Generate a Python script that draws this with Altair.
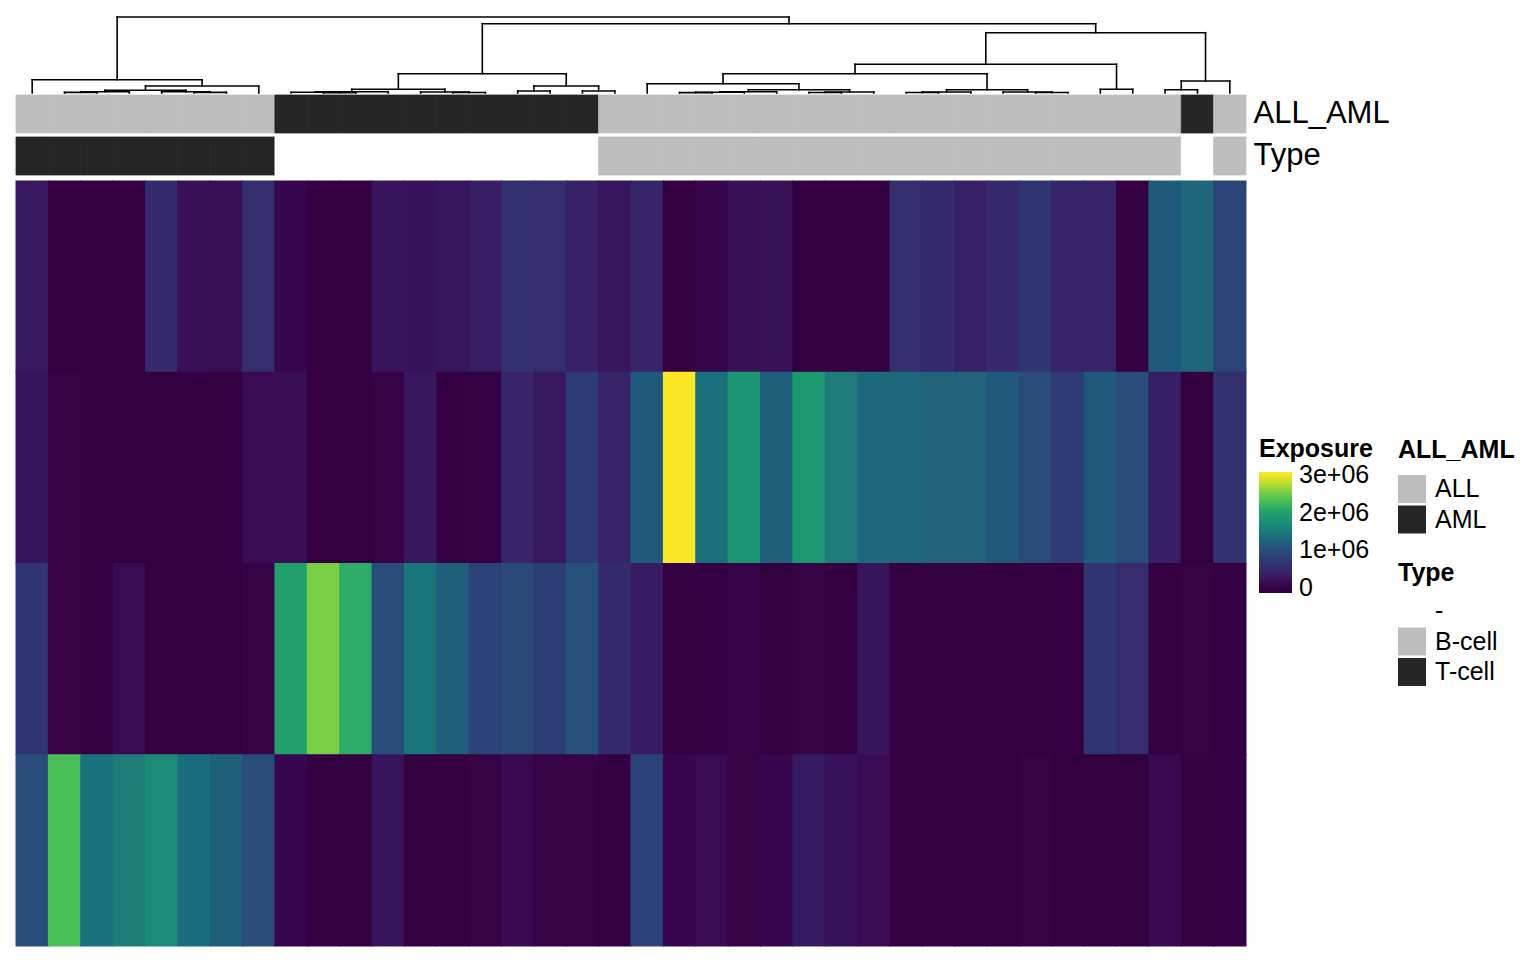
import altair as alt
import pandas as pd

# ---------------- data ----------------
samples = [f"Sample_{i + 1:02d}" for i in range(38)]  # in dendrogram leaf order
all_aml = ["ALL"] * 8 + ["AML"] * 10 + ["ALL"] * 18 + ["AML"] + ["ALL"]
cell_type = ["T-cell"] * 8 + ["-"] * 10 + ["B-cell"] * 18 + ["-"] + ["B-cell"]

signatures = ["Signature 1", "Signature 2", "Signature 3", "Signature 4"]
# exposures in units of 1e6
sig1 = [0.30, 0.00, 0.02, 0.00, 0.52, 0.20, 0.18, 0.55, 0.10, 0.02,
        0.00, 0.25, 0.24, 0.27, 0.35, 0.60, 0.55, 0.40, 0.28, 0.45,
        0.00, 0.08, 0.20, 0.21, 0.00, 0.02, 0.02, 0.55, 0.52, 0.38,
        0.50, 0.65, 0.45, 0.43, 0.02, 1.15, 1.28, 0.88]
sig2 = [0.25, 0.05, 0.00, 0.00, 0.00, 0.03, 0.01, 0.15, 0.17, 0.01,
        0.00, 0.05, 0.28, 0.03, 0.04, 0.45, 0.30, 0.75, 0.42, 1.15,
        3.05, 1.38, 1.86, 1.20, 1.90, 1.50, 1.32, 1.30, 1.25, 1.25,
        1.12, 0.98, 0.76, 1.12, 1.00, 0.37, 0.00, 0.60]
sig3 = [0.65, 0.05, 0.01, 0.15, 0.00, 0.02, 0.01, 0.05, 2.00, 2.55,
        2.12, 1.00, 1.43, 1.20, 0.86, 0.95, 0.80, 1.05, 0.52, 0.34,
        0.02, 0.03, 0.06, 0.00, 0.05, 0.01, 0.25, 0.02, 0.02, 0.02,
        0.01, 0.02, 0.01, 0.65, 0.53, 0.01, 0.05, 0.01]
sig4 = [1.00, 2.30, 1.40, 1.52, 1.70, 1.35, 1.20, 1.00, 0.10, 0.02,
        0.00, 0.25, 0.00, 0.01, 0.05, 0.12, 0.05, 0.05, 0.02, 0.85,
        0.10, 0.15, 0.05, 0.10, 0.33, 0.22, 0.15, 0.01, 0.02, 0.00,
        0.00, 0.05, 0.02, 0.00, 0.00, 0.12, 0.02, 0.02]

# colour ramp (value in 1e6 -> colour)
ramp_values = [-0.13, 0.0, 0.1, 0.25, 0.5, 0.75, 1.0, 1.25, 1.5, 1.75, 2.0, 2.25, 2.5, 2.75, 3.0, 3.08]
ramp_colors = ["#320040", "#330040", "#38064f", "#38145d", "#36296c", "#2e3a75", "#2a4c7a", "#22637a",
               "#1f7b79", "#1f8e74", "#21a06d", "#40b95b", "#6acb4a", "#b0dc32", "#f5e526", "#fde725"]
legend_ticks = [0, 1e6, 2e6, 3e6]

aml_levels = ["ALL", "AML"]
aml_colors = ["#bebebe", "#262626"]
type_levels = ["-", "B-cell", "T-cell"]
type_colors = ["#ffffff", "#bebebe", "#262626"]

# dendrogram: (merge height, left, right); leaves are column indices
dendro_tree = (
    76.0,
    (13.3, 0, (7.0, (2.7, (1.3, (0.6, 1, 2), 3), (1.3, 4, (0.6, 5, 6))), 7)),
    (69.3,
     (19.3,
      (3.7, (1.3, (0.8, 8, (0.4, 9, 10)), 11), (1.0, 12, (0.5, 13, 14))),
      (7.0, (2.0, 15, 16), (2.0, 17, 18))),
     (60.3,
      (28.7,
       (19.3,
        (9.3, 19, (3.3, (1.3, (0.8, (0.4, 20, 21), 22), 23), (1.0, (0.5, 24, 25), 26))),
        (3.3, (1.0, (0.5, 27, 28), 29), (1.0, 30, (0.5, 31, 32)))),
       (3.7, 33, 34)),
      (12.0, (3.3, 35, 36), 37))),
)

# ---------------- tables ----------------
rows = []
for sig, vals in zip(signatures, [sig1, sig2, sig3, sig4]):
    for s, v in zip(samples, vals):
        rows.append({"sample": s, "signature": sig, "exposure": v * 1e6})
heat_df = pd.DataFrame(rows)

segs = []


def walk(node):
    if isinstance(node, int):
        return node + 0.5, 0.0
    h, l, r = node
    lx, lh = walk(l)
    rx, rh = walk(r)
    segs.append({"x": lx, "x2": rx, "y": h, "y2": h})
    segs.append({"x": lx, "x2": lx, "y": lh, "y2": h})
    segs.append({"x": rx, "x2": rx, "y": rh, "y2": h})
    return (lx + rx) / 2, h


walk(dendro_tree)
seg_df = pd.DataFrame(segs)

ann1 = pd.DataFrame({"sample": samples, "row": "ALL_AML", "aml": all_aml, "aml_edge": all_aml})
ann2 = pd.DataFrame({"sample": samples, "row": "Type", "ctype": cell_type, "ctype_edge": cell_type})

W = 1230
FONT = "Liberation Sans"
LBL = 25
SEAM = 0.8  # thin same-colour stroke hides anti-aliasing seams between cells

# ---------------- charts ----------------
dendro = alt.Chart(seg_df).mark_rule(color="black", strokeWidth=1.6, strokeCap="square").encode(
    x=alt.X("x:Q", scale=alt.Scale(domain=[0, 38], nice=False, zero=False), axis=None),
    x2="x2:Q",
    y=alt.Y("y:Q", scale=alt.Scale(domain=[0, 76], nice=False), axis=None),
    y2="y2:Q",
).properties(width=W, height=76)

xs = alt.X("sample:N", sort=samples, axis=None, scale=alt.Scale(paddingInner=0, paddingOuter=0))
ys = alt.Y("row:N", scale=alt.Scale(domain=["ALL_AML", "Type"], paddingInner=0.095, paddingOuter=0.0476, align=0),
           axis=alt.Axis(orient="right", title=None, ticks=False, domain=False, labelFontSize=31,
                         labelPadding=7, labelColor="black", labelFont=FONT))

ann_a = alt.Chart(ann1).mark_rect(strokeWidth=SEAM).encode(
    x=xs, y=ys,
    color=alt.Color("aml:N", scale=alt.Scale(domain=aml_levels, range=aml_colors),
                    legend=alt.Legend(title="ALL_AML", orient="none", legendX=1382, legendY=343,
                                      symbolType="square", symbolSize=784, symbolStrokeWidth=0,
                                      labelFontSize=LBL, titleFontSize=LBL, labelOffset=9, rowPadding=2.5,
                                      titlePadding=12)),
    stroke=alt.Stroke("aml_edge:N", scale=alt.Scale(domain=aml_levels, range=aml_colors), legend=None),
)
ann_b = alt.Chart(ann2).mark_rect(strokeWidth=SEAM).encode(
    x=xs, y=ys,
    fill=alt.Fill("ctype:N", scale=alt.Scale(domain=type_levels, range=type_colors),
                  legend=alt.Legend(title="Type", orient="none", legendX=1382, legendY=466,
                                    symbolType="square", symbolSize=784, symbolStrokeWidth=0,
                                    labelFontSize=LBL, titleFontSize=LBL, labelOffset=9, rowPadding=2.5,
                                    titlePadding=11)),
    stroke=alt.Stroke("ctype_edge:N", scale=alt.Scale(domain=type_levels, range=type_colors), legend=None),
)
annot = alt.layer(ann_a, ann_b).resolve_scale(stroke="independent").properties(width=W, height=84)

# cells slightly wider than their band so neighbours overlap (no anti-aliasing seams)
heat = alt.Chart(heat_df).mark_rect(
    width=alt.RelativeBandSize(1.03), height=alt.RelativeBandSize(1.005)
).encode(
    x=xs,
    y=alt.Y("signature:N", sort=signatures, axis=None, scale=alt.Scale(paddingInner=0, paddingOuter=0)),
    color=alt.Color("exposure:Q",
                    scale=alt.Scale(domain=[v * 1e6 for v in ramp_values], range=ramp_colors, clamp=True),
                    legend=alt.Legend(title="Exposure", orient="none", legendX=1243, legendY=256,
                                      direction="vertical", gradientLength=121, gradientThickness=33,
                                      gradientStrokeWidth=0, values=legend_ticks,
                                      labelExpr="datum.value == 0 ? '0' : format(datum.value / 1000000, 'd') + 'e+06'",
                                      labelFontSize=LBL, titleFontSize=LBL, labelOffset=7, titlePadding=10)),
).properties(width=W, height=765)

chart = alt.vconcat(dendro, annot, heat, spacing=2, bounds="flush").resolve_scale(
    color="independent", fill="independent", stroke="independent", x="independent", y="independent"
).properties(
    padding={"left": 7, "top": 7, "right": 5, "bottom": 5}
).configure(font=FONT).configure_view(stroke=None).configure_legend(
    titleFontWeight="bold", titleColor="black", labelColor="black", titleFont=FONT, labelFont=FONT
)

chart.save("out.html", embed_options={"renderer": "svg", "actions": False})
